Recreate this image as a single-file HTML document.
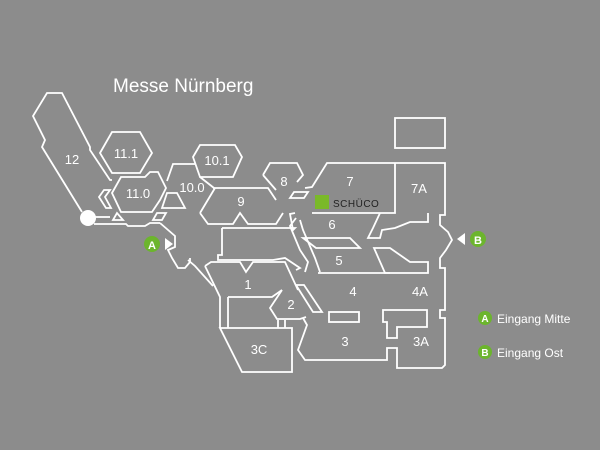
<!DOCTYPE html>
<html><head><meta charset="utf-8"><style>
html,body{margin:0;padding:0;background:#8c8c8c;}
svg{display:block}
text{font-family:"Liberation Sans",sans-serif;fill:#fff}
</style></head><body>
<svg width="600" height="450" viewBox="0 0 600 450">
<rect width="600" height="450" fill="#8c8c8c"/>
<text x="113" y="92" font-size="19">Messe Nürnberg</text>
<g fill="none" stroke="#fff" stroke-width="1.8" stroke-linejoin="miter">
<path d="M82,212 L42,147 L45,140 L33,116 L47,93 L62,93 L90,147 L90,150 L110,180 L112,180"/>
<path d="M94,224 L126,224 L128,226 L145,226 L150,223 L160,223"/>
<path d="M94,217 L110,217"/>
<path d="M100,153 L112,132 L140,132 L152,153 L140,173 L112,173 Z"/>
<path d="M112,193 L121,177 L145,177 L150,172 L158,172 L166,188 L160,200 L152,212 L121,212 Z"/>
<path d="M104,190 L99,197 L106,208 L111,208 L105,197 L110,190 Z"/>
<path d="M113,220 L117,213 L123,220 Z"/>
<path d="M153,220 L157,213 L166,213 L162,220 Z"/>
<path d="M162,208 L167,193 L177,193 L185,208 Z"/>
<path d="M193,157 L200,145 L235,145 L242,157 L233,177 L200,177 Z"/>
<path d="M167,181 L173,164 L195,164 M200,177 L214,188"/>
<path d="M213,188 L268,188 L276,200 M200,213 L215,188 M200,213 L208,224 L233,224 L240,213 L248,224 L276,224 L283,213"/>
<path d="M263,175 L270,163 L297,163 L303,175 L297,182 M263,175 L276,190"/>
<path d="M290,198 L294,192 L308,192 L304,198 Z"/>
<path d="M305,188 L312,187 L327,163 L445,163 L445,215 L440,215 L440,225 L448,232 L452,240 L446,250 L440,258 L440,268 L445,268 L445,310 L440,310 L440,318 L445,318 L445,365 L442,368 L397,368 L397,348 L387,348 L387,360 L305,360 L298,350 L307,325 L303,318"/>
<path d="M395,163 L395,213 L312,213"/>
<rect x="395" y="118" width="50" height="30"/>
<path d="M428,213 L428,222 L410,222 L395,228 L382,230 L380,238 L368,238 L373,228 L380,213"/>
<path d="M303,238 L350,238 L360,248 L316,248 Z"/>
<path d="M374,248 L390,248 L410,262 L428,262 L428,273 L385,273 Z"/>
<path d="M318,273 L390,273"/>
<path d="M222,228 L222,255 L218,255 L218,260 L273,260 L285,258 L300,268 L296,270 M222,228 L295,228 L293,230 L290,214 L295,213 M296,218 L290,226 L300,250 L308,262 L305,272"/>
<path d="M300,220 L303,230 L315,258 L320,272"/>
<path d="M160,223 L175,236 L175,247 L168,250 L172,258 L178,268 L185,268 L190,262 L190,258"/>
<path d="M205,266 L211,262 L240,262 L246,272 L253,262 L285,262 L298,290 M205,266 L220,297 L220,328 M188,260 L195,266 L213,286"/>
<path d="M228,297 L272,297 L282,290 M228,297 L228,328"/>
<path d="M282,290 L270,308 L277,319 L300,319 L306,317"/>
<path d="M296,285 L304,285 L322,312 L313,312 Z"/>
<rect x="329" y="312" width="30" height="10"/>
<path d="M220,328 L292,328 L292,372 L242,372 Z"/>
<path d="M278,320 L278,328 M285,320 L285,328"/>
<path d="M427,310 L383,310 L383,322 L387,322 L387,338 L397,338 L397,327 L427,327 Z"/>
</g>
<circle cx="88" cy="218" r="8" fill="#fff"/>
<rect x="315" y="195" width="14" height="14" fill="#7ab929"/>
<text x="333" y="207" font-size="10" style="fill:#222" letter-spacing="0.5">SCHÜCO</text>
<g font-size="13" text-anchor="middle">
<text x="72" y="164">12</text>
<text x="126" y="158">11.1</text>
<text x="138" y="198">11.0</text>
<text x="217" y="165">10.1</text>
<text x="192" y="192">10.0</text>
<text x="241" y="206">9</text>
<text x="284" y="186">8</text>
<text x="350" y="186">7</text>
<text x="419" y="193">7A</text>
<text x="332" y="229">6</text>
<text x="339" y="265">5</text>
<text x="248" y="289">1</text>
<text x="291" y="309">2</text>
<text x="353" y="296">4</text>
<text x="420" y="296">4A</text>
<text x="345" y="346">3</text>
<text x="421" y="346">3A</text>
<text x="259" y="354">3C</text>
</g>
<circle cx="152" cy="244" r="8" fill="#6cb52d"/>
<text x="152" y="249" font-size="11" font-weight="bold" text-anchor="middle">A</text>
<path d="M165,238 L173,244 L165,250 Z" fill="#fff"/>
<circle cx="478" cy="239" r="8" fill="#6cb52d"/>
<text x="478" y="244" font-size="11" font-weight="bold" text-anchor="middle">B</text>
<path d="M465,233 L457,239 L465,245 Z" fill="#fff"/>
<circle cx="485" cy="318" r="7" fill="#6cb52d"/>
<text x="485" y="322" font-size="10" font-weight="bold" text-anchor="middle">A</text>
<text x="497" y="323" font-size="12">Eingang Mitte</text>
<circle cx="485" cy="352" r="7" fill="#6cb52d"/>
<text x="485" y="356" font-size="10" font-weight="bold" text-anchor="middle">B</text>
<text x="497" y="357" font-size="12">Eingang Ost</text>
</svg>
</body></html>
